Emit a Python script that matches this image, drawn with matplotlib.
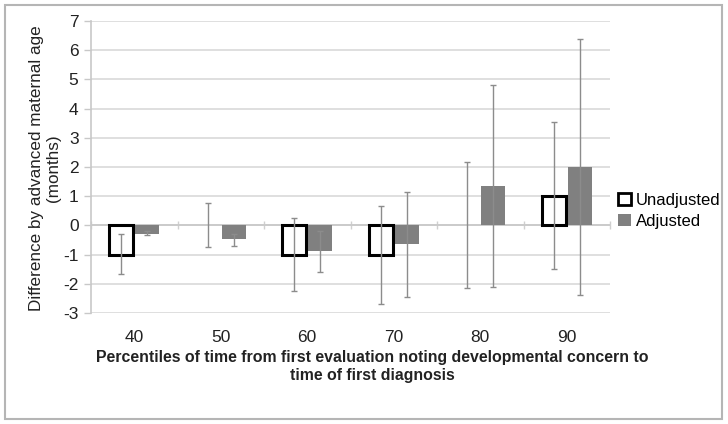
import numpy as np
import matplotlib
matplotlib.use("Agg")
import matplotlib.pyplot as plt
from matplotlib.patches import Patch, Rectangle

plt.rcParams['font.family'] = ['Liberation Sans', 'DejaVu Sans']

categories = ["40", "50", "60", "70", "80", "90"]
unadj = [-1.0, 0.0, -1.0, -1.0, 0.0, 1.0]
unadj_lo = [-1.65, -0.75, -2.25, -2.70, -2.13, -1.51]
unadj_hi = [-0.30, 0.77, 0.25, 0.68, 2.17, 3.53]
adj = [-0.28, -0.48, -0.87, -0.63, 1.34, 1.99]
adj_lo = [-0.34, -0.70, -1.58, -2.45, -2.10, -2.39]
adj_hi = [-0.20, -0.28, -0.19, 1.16, 4.80, 6.40]
yticks = list(range(-3, 8))

fig = plt.figure(figsize=(7.28, 4.24), dpi=100)
ax = fig.add_axes([91/728, 1-313/424, (610-91)/728, (313-21)/424])

x = np.arange(len(categories))
w = 0.28
off = 0.15
ua = np.array(unadj); aa = np.array(adj)
lws = [2.2 if v != 0 else 0 for v in unadj]

ax.bar(x + off, aa, width=w, color='#808080', edgecolor='none', zorder=3)
ax.bar(x - off, ua, width=w, facecolor='white', edgecolor='black', linewidth=lws, zorder=3)

ecol = '#8c8c8c'
ax.errorbar(x - off, ua, yerr=[ua - np.array(unadj_lo), np.array(unadj_hi) - ua],
            fmt='none', ecolor=ecol, elinewidth=1.0, capsize=2.5, capthick=1.0, zorder=4)
ax.errorbar(x + off, aa, yerr=[aa - np.array(adj_lo), np.array(adj_hi) - aa],
            fmt='none', ecolor=ecol, elinewidth=1.0, capsize=2.5, capthick=1.0, zorder=4)

ax.set_xlim(-0.5, len(categories) - 0.5)
ax.set_ylim(-3, 7)
ax.set_yticks(yticks)
ax.set_yticklabels([str(v) for v in yticks], fontsize=12.5, color='#222222')
ax.set_xticks(x)
ax.set_xticklabels(categories, fontsize=12.5, color='#222222')
ax.tick_params(axis='x', length=0, pad=12)
ax.tick_params(axis='y', length=5, width=1, color='#c8c8c8', pad=4)
ax.grid(axis='y', color='#d9d9d9', linewidth=1.2, zorder=0)
ax.set_axisbelow(True)
for s in ['top', 'right', 'bottom']:
    ax.spines[s].set_visible(False)
ax.spines['left'].set_color('#c8c8c8')
ax.spines['left'].set_linewidth(1.2)

# horizontal axis crossing at zero with category boundary ticks
ax.axhline(0, color='#c8c8c8', linewidth=1.2, zorder=1)
sec = ax.secondary_xaxis((0 - (-3)) / 10)
sec.set_xticks(np.arange(len(categories) + 1) - 0.5)
sec.set_xticklabels([])
sec.tick_params(length=6, direction='inout', color='#d0d0d0', width=1)
sec.spines['bottom'].set_visible(False)
sec.spines['top'].set_visible(False)

ax.set_ylabel("Difference by advanced maternal age\n(months)", fontsize=12.3,
              color='#222222', linespacing=1.18)
ax.yaxis.set_label_coords((61 - 91) / (610 - 91), 0.495)
ax.set_xlabel("Percentiles of time from first evaluation noting developmental concern to\ntime of first diagnosis",
              fontsize=11.4, fontweight='bold', color='#222222', linespacing=1.25)
ax.xaxis.set_label_coords((372 - 91) / (610 - 91), -(350 - 313) / (313 - 21))

handles = [Patch(facecolor='white', edgecolor='black', linewidth=2.0),
           Patch(facecolor='#808080', edgecolor='none')]
fig.legend(handles, ["Unadjusted", "Adjusted"], loc='center left',
           bbox_to_anchor=(618/728, 1 - 211/424), frameon=False, fontsize=12,
           handlelength=0.75, handleheight=0.75, handletextpad=0.3,
           labelspacing=0.35, borderpad=0, borderaxespad=0)

fig.patches.append(Rectangle((5/728, 5/424), (722 - 5)/728, (419 - 5)/424,
                             transform=fig.transFigure, fill=False,
                             edgecolor='#b5b5b5', linewidth=1.5))

fig.savefig("out.png", dpi=100, facecolor='white')
